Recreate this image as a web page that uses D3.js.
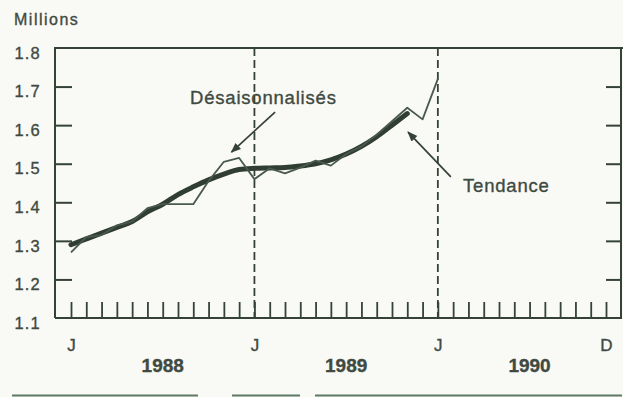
<!DOCTYPE html>
<html>
<head>
<meta charset="utf-8">
<script src="https://cdn.jsdelivr.net/npm/d3@7"></script>
<style>
  html, body { margin: 0; padding: 0; background: #f9f9f6; }
  svg { display: block; }
  text { font-family: "Liberation Sans", Arial, Helvetica, sans-serif; fill: #3f4a41; stroke: #3f4a41; stroke-width: 0.35; }
</style>
</head>
<body>
<svg id="chart" width="623" height="397"></svg>
<script>
// Monthly index: 0 = January 1988 ... 35 = December 1990
const months = d3.range(36);

// Seasonally adjusted series (millions), Jan 1988 - Jan 1990
const desaisonnalises = [1.27, 1.31, 1.315, 1.34, 1.35, 1.385, 1.395, 1.395, 1.395, 1.455,
  1.505, 1.515, 1.46, 1.488, 1.475, 1.49, 1.508, 1.495, 1.525, 1.545,
  1.575, 1.61, 1.645, 1.615, 1.72];

// Trend series (millions), Jan 1988 - Nov 1989
const tendance = [1.29, 1.305, 1.32, 1.335, 1.35, 1.375, 1.395, 1.42, 1.44, 1.458,
  1.473, 1.485, 1.488, 1.489, 1.49, 1.494, 1.50, 1.51, 1.525, 1.545,
  1.57, 1.60, 1.63];

// Axis labels
const yTicks = [1.1, 1.2, 1.3, 1.4, 1.5, 1.6, 1.7, 1.8];
const xLabelMonths = [0, 12, 24, 35];
const xLabelText = ["J", "J", "J", "D"];
const years = ["1988", "1989", "1990"];
const yearMonths = [6, 18, 30];
const yearStarts = [12, 24];

const ink = "#354238";
const frame = { left: 55, top: 48, right: 621, bottom: 318 };

const svg = d3.select("#chart");
const x = d3.scaleLinear().domain([0, 35]).range([71, 606]);
const y = d3.scaleLinear().domain([1.1, 1.8]).range([frame.bottom, frame.top]);

// Unit label
svg.append("text")
  .attr("x", 14).attr("y", 25)
  .attr("font-size", 16)
  .attr("letter-spacing", 1.5)
  .text("Millions");

// Left axis: inward ticks with labels
const left = svg.append("g")
  .attr("transform", `translate(${frame.left},0)`)
  .call(d3.axisLeft(y).tickValues(yTicks).tickSize(-17).tickPadding(14)
    .tickFormat(d3.format(".1f")));
left.select(".domain").remove();
left.selectAll(".tick line").attr("stroke", ink).attr("stroke-width", 2)
  .filter(d => d === 1.1 || d === 1.8).remove();
left.selectAll(".tick text")
  .attr("font-size", 16.5).attr("letter-spacing", 1.2)
  .attr("dy", "0.62em").attr("fill", "#3f4a41");

// Right axis: inward ticks only
const right = svg.append("g")
  .attr("transform", `translate(${frame.right},0)`)
  .call(d3.axisRight(y).tickValues(yTicks.filter(d => d > 1.1 && d < 1.8))
    .tickSize(-15).tickFormat(""));
right.select(".domain").remove();
right.selectAll(".tick line").attr("stroke", ink).attr("stroke-width", 2);

// Bottom axis: monthly ticks pointing up
const bottom = svg.append("g")
  .attr("transform", `translate(0,${frame.bottom})`)
  .call(d3.axisBottom(x).tickValues(months).tickSize(-16).tickPadding(21)
    .tickFormat(d => {
      const i = xLabelMonths.indexOf(d);
      return i >= 0 ? xLabelText[i] : "";
    }));
bottom.select(".domain").remove();
bottom.selectAll(".tick line").attr("stroke", ink).attr("stroke-width", 1.8);
bottom.selectAll(".tick text").attr("font-size", 17).attr("fill", "#3f4a41");

// Year labels
svg.append("g").selectAll("text")
  .data(years)
  .join("text")
  .attr("x", (d, i) => x(yearMonths[i]))
  .attr("y", 372)
  .attr("text-anchor", "middle")
  .attr("font-size", 19)
  .attr("font-weight", "bold")
  .text(d => d);

// Frame
svg.append("path")
  .attr("d", `M${frame.left},${frame.bottom}V${frame.top}H${frame.right + 2}`)
  .attr("fill", "none").attr("stroke", ink).attr("stroke-width", 2);
svg.append("path")
  .attr("d", `M${frame.left},${frame.bottom}H${frame.right}V${frame.top}`)
  .attr("fill", "none").attr("stroke", ink).attr("stroke-width", 2);

// Dashed year separators
svg.append("g").selectAll("line")
  .data(yearStarts)
  .join("line")
  .attr("x1", d => x(d)).attr("x2", d => x(d))
  .attr("y1", frame.top).attr("y2", frame.bottom)
  .attr("stroke", ink).attr("stroke-width", 1.8)
  .attr("stroke-dasharray", "8,4");

// Trend (thick, smooth)
svg.append("path")
  .datum(tendance)
  .attr("fill", "none")
  .attr("stroke", "#2f3d33")
  .attr("stroke-width", 5)
  .attr("stroke-linecap", "round")
  .attr("stroke-linejoin", "round")
  .attr("d", d3.line().x((d, i) => x(i)).y(d => y(d)).curve(d3.curveMonotoneX));

// Seasonally adjusted (thin)
svg.append("path")
  .datum(desaisonnalises)
  .attr("fill", "none")
  .attr("stroke", "#4a594d")
  .attr("stroke-width", 1.8)
  .attr("stroke-linejoin", "round")
  .attr("d", d3.line().x((d, i) => x(i)).y(d => y(d)));

// Annotations with arrows
const defs = svg.append("defs");
defs.append("marker")
  .attr("id", "head")
  .attr("viewBox", "0 0 10 10")
  .attr("refX", 9).attr("refY", 5)
  .attr("markerWidth", 6).attr("markerHeight", 6)
  .attr("markerUnits", "strokeWidth")
  .attr("orient", "auto")
  .append("path").attr("d", "M0,1L10,5L0,9Z").attr("fill", ink);

const notes = [
  { text: "Désaisonnalisés", tx: 190, ty: 104, from: [13.35, 1.634], to: [10.5, 1.53] },
  { text: "Tendance", tx: 463, ty: 192, from: [24.85, 1.466], to: [22.05, 1.582] }
];
notes.forEach(n => {
  svg.append("line")
    .attr("x1", x(n.from[0])).attr("y1", y(n.from[1]))
    .attr("x2", x(n.to[0])).attr("y2", y(n.to[1]))
    .attr("stroke", ink).attr("stroke-width", 1.7)
    .attr("marker-end", "url(#head)");
  svg.append("text")
    .attr("x", n.tx).attr("y", n.ty)
    .attr("font-size", 18.5)
    .attr("letter-spacing", 0.8)
    .text(n.text);
});

// Page rule beneath the chart
const ruleSegments = [[12, 198], [232, 300], [315, 622]];
svg.append("g").selectAll("line")
  .data(ruleSegments)
  .join("line")
  .attr("x1", d => d[0]).attr("x2", d => d[1])
  .attr("y1", 395.5).attr("y2", 395.5)
  .attr("stroke", "#5f7a62").attr("stroke-width", 2);
</script>
</body>
</html>
